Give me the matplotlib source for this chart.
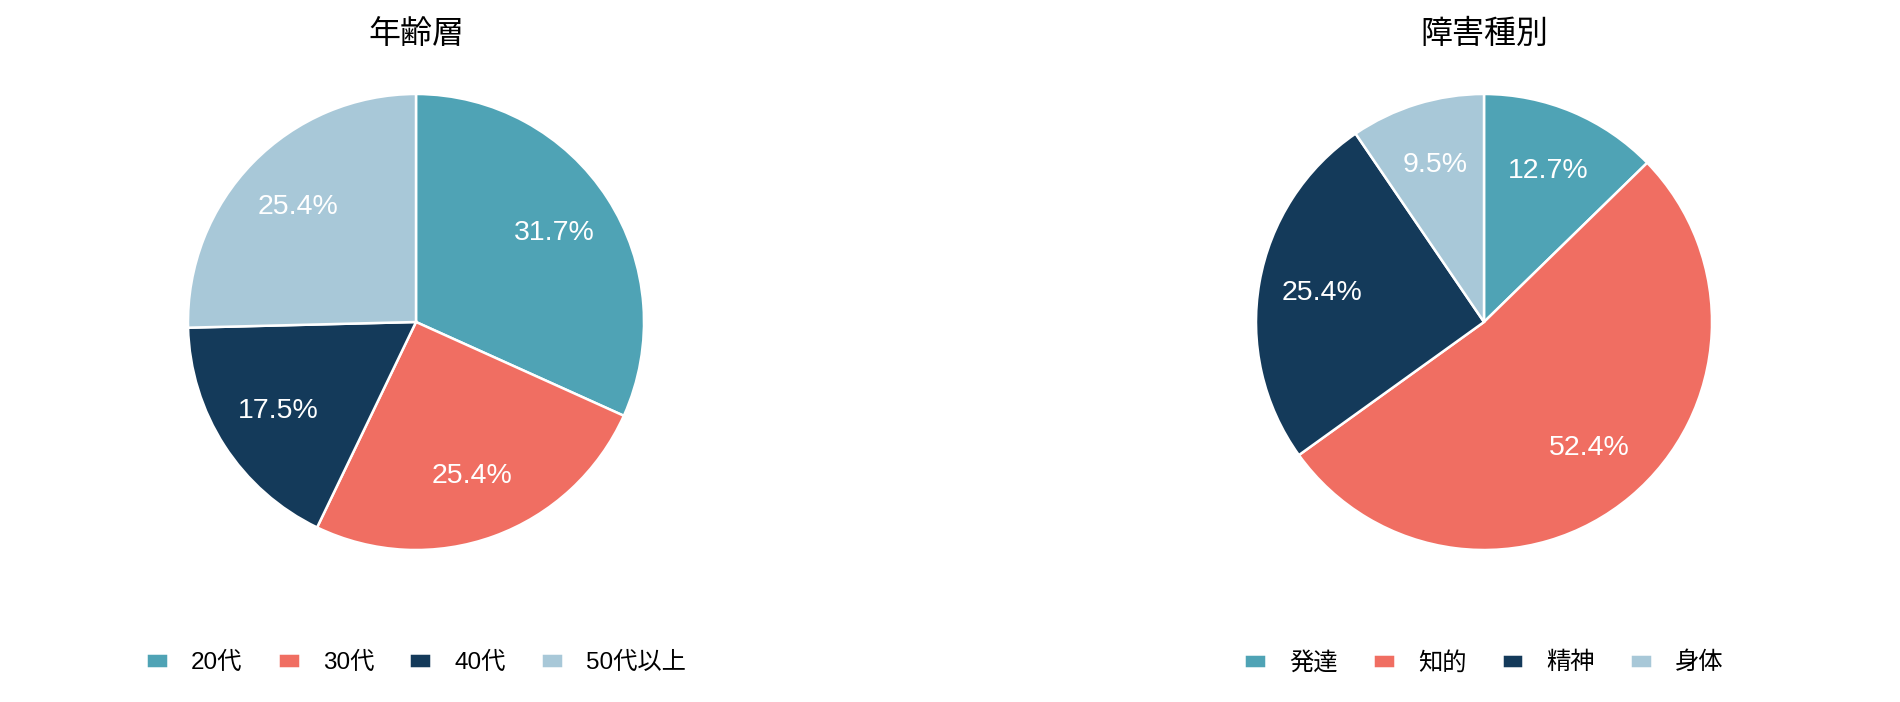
import matplotlib
matplotlib.use("Agg")
import matplotlib.pyplot as plt

plt.rcParams['font.family'] = ['Liberation Sans', 'Noto Sans CJK JP']

colors = ['#4fa3b5', '#f06e62', '#143a5a', '#a8c8d8']

# 年齢層
age_labels = ['20代', '30代', '40代', '50代以上']
age_counts = [20, 16, 11, 16]

# 障害種別
type_labels = ['発達', '知的', '精神', '身体']
type_counts = [8, 33, 16, 6]

W, H = 1900, 702
fig = plt.figure(figsize=(W / 100, H / 100), dpi=100)

R = 228       # pie radius in px
LIM = 1.2     # axes half width in pie units


def draw_pie(cx, cy, title, labels, counts):
    half = R * LIM
    ax = fig.add_axes([(cx - half) / W, (H - cy - half) / H, 2 * half / W, 2 * half / H])
    wedges, texts, autotexts = ax.pie(
        counts, colors=colors, startangle=90, counterclock=False,
        autopct='%1.1f%%', pctdistance=0.72,
        wedgeprops=dict(edgecolor='white', linewidth=1.8),
        textprops=dict(color='white', fontsize=20.5))
    ax.set_xlim(-LIM, LIM)
    ax.set_ylim(-LIM, LIM)
    ax.set_aspect('equal')
    ax.axis('off')
    # title and legend positions in axes fraction
    ty = (cy + half - 34) / (2 * half)
    ax.text(0.5, ty, title, transform=ax.transAxes, ha='center', va='center',
            fontsize=23, family='Noto Sans CJK JP')
    ly = (cy + half - 663) / (2 * half)
    ax.legend(wedges, labels, loc='center', bbox_to_anchor=(0.5, ly), ncol=4,
              frameon=False, fontsize=17.5, handlelength=0.9, handleheight=0.54,
              handletextpad=0.95, columnspacing=1.45)
    return ax


draw_pie(416, 322, '年齢層', age_labels, age_counts)
draw_pie(1484, 322, '障害種別', type_labels, type_counts)

fig.savefig('out.png', dpi=100)
